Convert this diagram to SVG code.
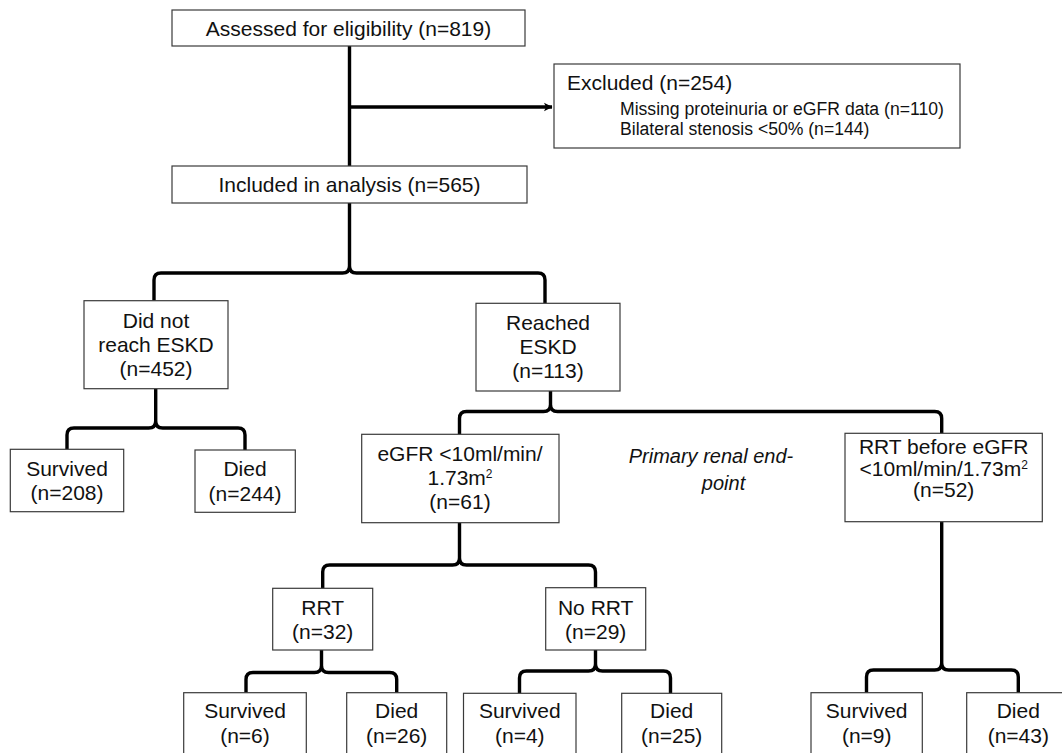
<svg xmlns="http://www.w3.org/2000/svg" width="1062" height="753" viewBox="0 0 1062 753">
  <defs>
    <marker id="arrowhead" viewBox="0 0 10 10" refX="9" refY="5" markerWidth="10" markerHeight="10" markerUnits="userSpaceOnUse" orient="auto">
      <path d="M1,0.8 L9.5,5 L1,9.2 L3,5 Z" fill="#000"/>
    </marker>
    <style>
      .box { fill: #fff; stroke: #3a3a3a; stroke-width: 1.2; }
      .wire { fill: none; stroke: #000; stroke-width: 3.4; stroke-linecap: butt; stroke-linejoin: round; }
      .t { font-family: "Liberation Sans", Arial, Helvetica, sans-serif; font-size: 21px; fill: #111; text-anchor: middle; }
      .tl { font-family: "Liberation Sans", Arial, Helvetica, sans-serif; font-size: 21px; fill: #111; }
      .ts { font-family: "Liberation Sans", Arial, Helvetica, sans-serif; font-size: 17.6px; fill: #111; }
      .note { font-family: "Liberation Sans", Arial, Helvetica, sans-serif; font-size: 20px; font-style: italic; fill: #111; text-anchor: middle; }
      .sup { font-size: 12px; }
    </style>
  </defs>
  <rect width="1062" height="753" fill="#fff"/>

  <g id="connectors">
    <path class="wire" d="M349.5,46 V166"/>
    <path class="wire" d="M349.5,107 H552" marker-end="url(#arrowhead)"/>
    <!-- included split -->
    <path class="wire" d="M349.5,203 V266 Q349.5,273 342.5,273 H161 Q154,273 154,280 V300.7 M349.5,266 Q349.5,273 356.5,273 H538 Q545,273 545,280 V303.3"/>
    <!-- did not reach split -->
    <path class="wire" d="M155.7,388.7 V421 Q155.7,428 148.7,428 H74 Q67,428 67,435 V449.3 M155.7,421 Q155.7,428 162.7,428 H238 Q245,428 245,435 V450"/>
    <!-- reached split -->
    <path class="wire" d="M550.5,391 V404.5 Q550.5,411.5 543.5,411.5 H466.5 Q459.5,411.5 459.5,418.5 V434.3 M550.5,404.5 Q550.5,411.5 557.5,411.5 H934.7 Q941.7,411.5 941.7,418.5 V433.3"/>
    <!-- eGFR split -->
    <path class="wire" d="M459.5,522.7 V558 Q459.5,565 452.5,565 H329.7 Q322.7,565 322.7,572 V588.3 M459.5,558 Q459.5,565 466.5,565 H588.5 Q595.5,565 595.5,572 V587.7"/>
    <!-- RRT split -->
    <path class="wire" d="M321.5,650 V665.5 Q321.5,672.5 314.5,672.5 H253 Q246,672.5 246,679.5 V692.7 M321.5,665.5 Q321.5,672.5 328.5,672.5 H389.7 Q396.7,672.5 396.7,679.5 V692.7"/>
    <!-- no RRT split -->
    <path class="wire" d="M595.5,650 V664 Q595.5,671 588.5,671 H526.5 Q519.5,671 519.5,678 V693.3 M595.5,664 Q595.5,671 602.5,671 H663.5 Q670.5,671 670.5,678 V693.3"/>
    <!-- RRT before eGFR split -->
    <path class="wire" d="M941.7,521.7 V663 Q941.7,670 934.7,670 H873.5 Q866.5,670 866.5,677 V692.7 M941.7,663 Q941.7,670 948.7,670 H1011.3 Q1018.3,670 1018.3,677 V692.7"/>
  </g>

  <g id="assessed">
    <rect class="box" x="172" y="10" width="353" height="36"/>
    <text class="t" x="348.5" y="35.5">Assessed for eligibility (n=819)</text>
  </g>

  <g id="excluded">
    <rect class="box" x="554" y="64" width="406" height="84"/>
    <text class="tl" x="567" y="90">Excluded (n=254)</text>
    <text class="ts" x="620" y="115">Missing proteinuria or eGFR data (n=110)</text>
    <text class="ts" x="620" y="135">Bilateral stenosis &lt;50% (n=144)</text>
  </g>

  <g id="included">
    <rect class="box" x="172" y="166" width="355" height="37"/>
    <text class="t" x="349.5" y="192">Included in analysis (n=565)</text>
  </g>

  <g id="not-eskd">
    <rect class="box" x="84" y="300.7" width="144" height="88"/>
    <text class="t" x="156" y="327.5">Did not</text>
    <text class="t" x="156" y="351.5">reach ESKD</text>
    <text class="t" x="156" y="375.5">(n=452)</text>
  </g>

  <g id="eskd">
    <rect class="box" x="476" y="303.3" width="144" height="87.7"/>
    <text class="t" x="548" y="330">Reached</text>
    <text class="t" x="548" y="354">ESKD</text>
    <text class="t" x="548" y="378">(n=113)</text>
  </g>

  <g id="survived-208">
    <rect class="box" x="10.3" y="449.3" width="113.4" height="62.4"/>
    <text class="t" x="67" y="476">Survived</text>
    <text class="t" x="67" y="500">(n=208)</text>
  </g>

  <g id="died-244">
    <rect class="box" x="195" y="450" width="100.3" height="62.3"/>
    <text class="t" x="245" y="476">Died</text>
    <text class="t" x="245" y="501">(n=244)</text>
  </g>

  <g id="egfr">
    <rect class="box" x="361.7" y="434.3" width="197.3" height="88.4"/>
    <text class="t" x="460" y="460.5">eGFR &lt;10ml/min/</text>
    <text class="t" x="460" y="485">1.73m<tspan class="sup" dy="-7">2</tspan></text>
    <text class="t" x="460" y="509">(n=61)</text>
  </g>

  <g id="endpoint-note">
    <text class="note" x="711" y="462.5">Primary renal end-</text>
    <text class="note" x="723.5" y="490">point</text>
  </g>

  <g id="rrt-before">
    <rect class="box" x="845" y="433.3" width="197.3" height="88.4"/>
    <text class="t" x="943.7" y="453.5">RRT before eGFR</text>
    <text class="t" x="943.7" y="475.5">&lt;10ml/min/1.73m<tspan class="sup" dy="-7">2</tspan></text>
    <text class="t" x="943.7" y="496.5">(n=52)</text>
  </g>

  <g id="rrt">
    <rect class="box" x="272.7" y="588.3" width="100" height="61.7"/>
    <text class="t" x="322.7" y="615">RRT</text>
    <text class="t" x="322.7" y="639">(n=32)</text>
  </g>

  <g id="no-rrt">
    <rect class="box" x="545.7" y="587.7" width="100" height="62.3"/>
    <text class="t" x="595.7" y="615">No RRT</text>
    <text class="t" x="595.7" y="639">(n=29)</text>
  </g>

  <g id="survived-6">
    <rect class="box" x="183.7" y="692.7" width="122.6" height="70"/>
    <text class="t" x="245" y="718">Survived</text>
    <text class="t" x="245" y="743">(n=6)</text>
  </g>

  <g id="died-26">
    <rect class="box" x="346.7" y="692.7" width="100" height="70"/>
    <text class="t" x="396.7" y="718">Died</text>
    <text class="t" x="396.7" y="743">(n=26)</text>
  </g>

  <g id="survived-4">
    <rect class="box" x="463.5" y="693.3" width="112.5" height="70"/>
    <text class="t" x="519.8" y="718">Survived</text>
    <text class="t" x="519.8" y="743">(n=4)</text>
  </g>

  <g id="died-25">
    <rect class="box" x="621.7" y="693.3" width="100" height="70"/>
    <text class="t" x="671.7" y="718">Died</text>
    <text class="t" x="671.7" y="743">(n=25)</text>
  </g>

  <g id="survived-9">
    <rect class="box" x="811" y="692.7" width="111.3" height="70"/>
    <text class="t" x="866.7" y="718">Survived</text>
    <text class="t" x="866.7" y="743">(n=9)</text>
  </g>

  <g id="died-43">
    <rect class="box" x="966.7" y="692.7" width="103" height="70"/>
    <text class="t" x="1018.3" y="718">Died</text>
    <text class="t" x="1018.3" y="743">(n=43)</text>
  </g>
</svg>
